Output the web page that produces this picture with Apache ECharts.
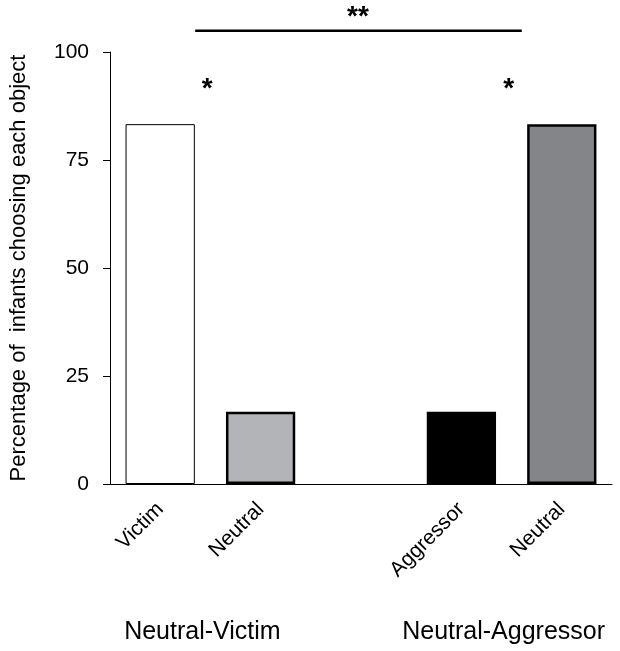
<!DOCTYPE html>
<html>
<head>
<meta charset="utf-8">
<script src="https://cdn.jsdelivr.net/npm/echarts@6/dist/echarts.min.js"></script>
<style>html,body{margin:0;padding:0;background:#fff}#c{width:620px;height:651px}</style>
</head>
<body>
<div id="c"></div>
<script>
// Data
const categories = ['Victim', 'Neutral', '', 'Aggressor', 'Neutral'];
const values = [83.3, 16.7, null, 16.7, 83.3];
const groupLabels = ['Neutral-Victim', 'Neutral-Aggressor'];
const groupPairs = [[0, 1], [3, 4]]; // category indices of each group
const yTicks = [0, 25, 50, 75, 100];

const fills = ['#ffffff', '#b3b4b7', null, '#000000', '#838588'];
const borders = [1, 2.5, 0, 2, 2.5];
const FONT = 'Liberation Sans, Arial, sans-serif';

const chart = echarts.init(document.getElementById('c'), null, {renderer: 'canvas'});
chart.setOption({
  animation: false,
  grid: {left: 108, right: 8, top: 52, bottom: 167},
  xAxis: [{
    type: 'category', data: categories, gridIndex: 0,
    axisLine: {lineStyle: {color: '#000', width: 1}},
    axisTick: {show: false},
    axisLabel: {rotate: 45, fontSize: 21, color: '#000', fontFamily: FONT, margin: 22, interval: 0}
  }],
  yAxis: {
    type: 'value', min: 0, max: 100, interval: 25,
    splitLine: {show: false},
    axisLine: {show: true, lineStyle: {color: '#000', width: 1}},
    axisTick: {show: true, length: 7, lineStyle: {color: '#000'}},
    axisLabel: {fontSize: 21, color: '#000', fontFamily: FONT, margin: 21, customValues: yTicks},
    name: 'Percentage of  infants choosing each object',
    nameLocation: 'middle', nameGap: 80,
    nameTextStyle: {fontSize: 22, color: '#000', fontFamily: FONT}
  },
  series: [{
    type: 'bar', barWidth: '69%',
    data: values.map((v, i) => ({
      value: v,
      itemStyle: {color: fills[i] || '#fff', borderColor: '#000', borderWidth: borders[i]}
    }))
  }]
});

function px(x, y) { return chart.convertToPixel({gridIndex: 0}, [x, y]); }
const graphics = [];
groupLabels.forEach((t, i) => {
  const p0 = px(groupPairs[i][0], 0), p1 = px(groupPairs[i][1], 0);
  graphics.push({type: 'text', x: (p0[0] + p1[0]) / 2 - 8, y: 632, style: {text: t, font: '25px ' + FONT, fill: '#000', align: 'center', verticalAlign: 'middle'}});
});
// significance annotations
const a = px(0, 104.9), b = px(4, 104.9);
const barHalf = 35;
graphics.push({type: 'line', shape: {x1: a[0] + barHalf, y1: a[1], x2: b[0] - barHalf - 5, y2: b[1]}, style: {stroke: '#000', lineWidth: 2.5}});
graphics.push({type: 'text', x: (a[0] + b[0]) / 2 - 3, y: a[1] - 14, style: {text: '**', font: 'bold 28px ' + FONT, fill: '#000', align: 'center', verticalAlign: 'middle'}});
const s1 = px(0, 92.4), s2 = px(4, 92.4);
graphics.push({type: 'text', x: s1[0] + 47, y: s1[1] + 4, style: {text: '*', font: 'bold 28px ' + FONT, fill: '#000', align: 'center', verticalAlign: 'middle'}});
graphics.push({type: 'text', x: s2[0] - 53, y: s2[1] + 4, style: {text: '*', font: 'bold 28px ' + FONT, fill: '#000', align: 'center', verticalAlign: 'middle'}});
chart.setOption({graphic: graphics});
</script>
</body>
</html>
